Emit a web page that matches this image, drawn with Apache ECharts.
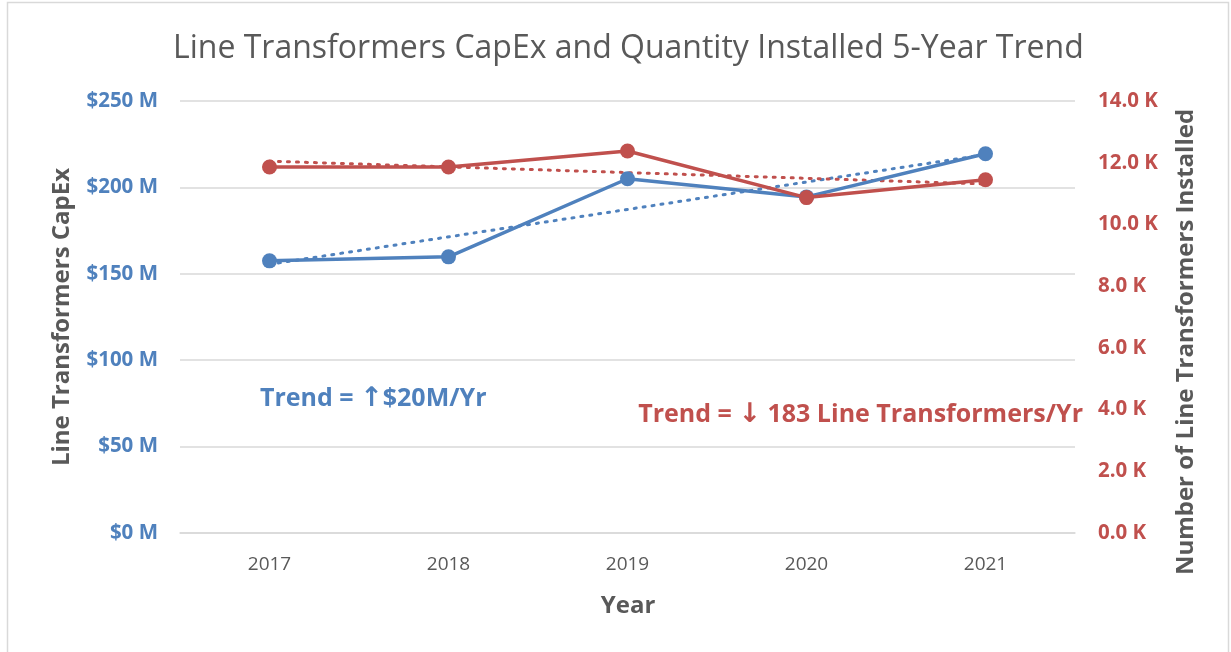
<!DOCTYPE html>
<html>
<head>
<meta charset="utf-8">
<script src="https://cdn.jsdelivr.net/npm/echarts@6/dist/echarts.min.js"></script>
<style>
    html, body { margin: 0; padding: 0; background: #fff; }
    #chart { width: 1231px; height: 652px; }
</style>
</head>
<body>
<div id="chart"></div>
<script>
// chart data
const years = ['2017', '2018', '2019', '2020', '2021'];
const capex = [157.5, 159.8, 205, 194.5, 219.5];          // $M
const installed = [11.86, 11.86, 12.38, 10.87, 11.45];    // K units
// trend lines (start and end only)
const capexTrend = [155.5, null, null, null, 219];
const installedTrend = [12.05, null, null, null, 11.31];
const leftTicks = [0, 50, 100, 150, 200, 250];
const rightTicks = [0, 2, 4, 6, 8, 10, 12, 14];

const BLUE = '#4f81bd';
const RED = '#c0504d';
const GREY = '#595959';
const FONT = 'Open Sans';

let chart = echarts.init(document.getElementById('chart'));

let option = {
    animation: false,
    title: {
        text: 'Line Transformers CapEx and Quantity Installed 5-Year Trend',
        left: 168,
        top: 28,
        textStyle: { fontFamily: FONT, fontSize: 32, fontWeight: 'normal', color: GREY }
    },
    grid: { left: 180, right: 156, top: 101, bottom: 119 },
    xAxis: {
        type: 'category',
        data: years,
        boundaryGap: true,
        axisLine: { lineStyle: { color: '#d9d9d9', width: 1.5 } },
        axisTick: { show: false },
        axisLabel: { color: GREY, fontFamily: FONT, fontSize: 19, margin: 22 }
    },
    yAxis: [
        {
            type: 'value',
            min: leftTicks[0],
            max: leftTicks[leftTicks.length - 1],
            interval: 50,
            axisLine: { show: false },
            axisTick: { show: false },
            splitLine: { lineStyle: { color: '#d9d9d9', width: 1.5 } },
            axisLabel: {
                color: BLUE, fontFamily: FONT, fontSize: 20.5, fontWeight: 'bold', margin: 22,
                formatter: v => '$' + v + ' M'
            }
        },
        {
            type: 'value',
            min: rightTicks[0],
            max: rightTicks[rightTicks.length - 1],
            interval: 2,
            position: 'right',
            axisLine: { show: false },
            axisTick: { show: false },
            splitLine: { show: false },
            axisLabel: {
                color: RED, fontFamily: FONT, fontSize: 20.5, fontWeight: 'bold', margin: 23,
                formatter: v => v.toFixed(1) + ' K'
            }
        }
    ],
    series: [
        {
            name: 'CapEx trend',
            type: 'line',
            data: capexTrend,
            connectNulls: true,
            symbol: 'none',
            lineStyle: { color: BLUE, width: 3, type: [2, 7], cap: 'round' },
            z: 1
        },
        {
            name: 'Installed trend',
            type: 'line',
            yAxisIndex: 1,
            data: installedTrend,
            connectNulls: true,
            symbol: 'none',
            lineStyle: { color: RED, width: 3, type: [2, 7], cap: 'round' },
            z: 1
        },
        {
            name: 'CapEx',
            type: 'line',
            data: capex,
            symbol: 'circle',
            symbolSize: 15,
            itemStyle: { color: BLUE },
            lineStyle: { color: BLUE, width: 3.5 },
            z: 3
        },
        {
            name: 'Installed',
            type: 'line',
            yAxisIndex: 1,
            data: installed,
            symbol: 'circle',
            symbolSize: 15,
            itemStyle: { color: RED },
            lineStyle: { color: RED, width: 3.5 },
            z: 4
        }
    ],
    graphic: [
        {
            type: 'rect',
            shape: { x: 7.5, y: 2.5, width: 1221, height: 660 },
            style: { fill: 'none', stroke: '#d9d9d9', lineWidth: 1.5 },
            silent: true
        },
        {
            type: 'text',
            x: 62, y: 317, rotation: Math.PI / 2,
            style: {
                text: 'Line Transformers CapEx', fill: GREY, font: 'bold 24px "Open Sans"',
                align: 'center', verticalAlign: 'middle'
            }
        },
        {
            type: 'text',
            x: 1186, y: 342, rotation: Math.PI / 2,
            style: {
                text: 'Number of Line Transformers Installed', fill: GREY, font: 'bold 24px "Open Sans"',
                align: 'center', verticalAlign: 'middle'
            }
        },
        {
            type: 'text',
            x: 628, y: 606,
            style: {
                text: 'Year', fill: GREY, font: 'bold 24px "Open Sans"',
                align: 'center', verticalAlign: 'middle'
            }
        },
        {
            type: 'text',
            x: 260, y: 399,
            style: {
                text: 'Trend = {a|↑}$20M/Yr', fill: BLUE, font: 'bold 25px "Open Sans"',
                align: 'left', verticalAlign: 'middle',
                rich: { a: { fontFamily: 'DejaVu Sans', fontSize: 27, fontWeight: 'bold', fill: BLUE } }
            }
        },
        {
            type: 'text',
            x: 1083, y: 415,
            style: {
                text: 'Trend = {a|↓} 183 Line Transformers/Yr', fill: RED, font: 'bold 25px "Open Sans"',
                align: 'right', verticalAlign: 'middle',
                rich: { a: { fontFamily: 'DejaVu Sans', fontSize: 27, fontWeight: 'bold', fill: RED } }
            }
        }
    ]
};

option && chart.setOption(option);
</script>
</body>
</html>
